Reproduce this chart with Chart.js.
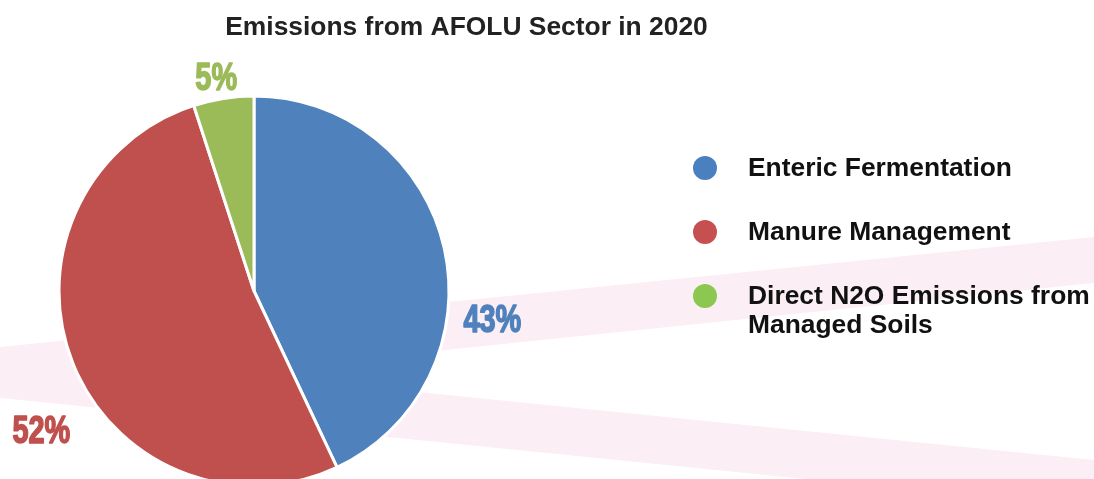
<!DOCTYPE html>
<html>
<head>
<meta charset="utf-8">
<title>Emissions from AFOLU Sector in 2020</title>
<script src="https://cdn.jsdelivr.net/npm/chart.js@4.4.1/dist/chart.umd.min.js"></script>
<style>
    html, body { margin: 0; padding: 0; background: #ffffff; overflow: hidden; }
    #wrap { position: relative; width: 1094px; height: 479px; overflow: hidden; }
    canvas { display: block; }
</style>
</head>
<body>
<div id="wrap">
    <canvas id="afoluPie" width="1094" height="500"></canvas>
</div>
<script>
const chartTitle = 'Emissions from AFOLU Sector in 2020';
const sources = ['Enteric Fermentation', 'Manure Management', 'Direct N2O Emissions from Managed Soils'];
const legendLines = [['Enteric Fermentation'], ['Manure Management'], ['Direct N2O Emissions from', 'Managed Soils']];
const shares = [43, 52, 5];

const sliceColors = ['#4f81bd', '#c0504d', '#9bbb59'];
const legendColors = ['#4a7fc0', '#c5504f', '#8cc751'];

// where each percentage sits: angle clockwise from 12 o'clock, distance in pie radii
const labelAngles = [96.5, 237, 350];
const labelDistance = [1.23, 1.30, 1.115];

const bands = {
    id: 'bands',
    beforeDraw(chart) {
        const { ctx, width } = chart;
        ctx.save();
        ctx.fillStyle = '#fbeef4';
        // rising band
        ctx.beginPath();
        ctx.moveTo(0, 347);
        ctx.lineTo(width, 237);
        ctx.lineTo(width, 283);
        ctx.lineTo(0, 396);
        ctx.closePath();
        ctx.fill();
        // falling band
        ctx.beginPath();
        ctx.moveTo(0, 350);
        ctx.lineTo(width, 460);
        ctx.lineTo(width, 508);
        ctx.lineTo(0, 398);
        ctx.closePath();
        ctx.fill();
        ctx.restore();
    }
};

const decorations = {
    id: 'decorations',
    afterDraw(chart) {
        const { ctx } = chart;
        ctx.save();

        // title
        ctx.font = 'bold 26.4px "Liberation Sans", Arial, sans-serif';
        ctx.fillStyle = '#222222';
        ctx.textAlign = 'center';
        ctx.textBaseline = 'alphabetic';
        ctx.fillText(chartTitle, 466.5, 35);

        // legend
        const rowTop = [176, 240, 304];
        ctx.font = 'bold 26.4px "Liberation Sans", Arial, sans-serif';
        ctx.textAlign = 'left';
        chart.data.labels.forEach((label, i) => {
            ctx.fillStyle = legendColors[i];
            ctx.beginPath();
            ctx.arc(705, rowTop[i] - 8, 12, 0, Math.PI * 2);
            ctx.fill();
            ctx.fillStyle = '#111111';
            legendLines[i].forEach((line, j) => {
                ctx.fillText(line, 748, rowTop[i] + j * 29);
            });
        });

        // percentage labels, narrow and heavy
        const arcs = chart.getDatasetMeta(0).data;
        const values = chart.data.datasets[0].data;
        ctx.font = 'bold 38px "Liberation Sans", Arial, sans-serif';
        ctx.textAlign = 'center';
        ctx.lineJoin = 'round';
        arcs.forEach((arc, i) => {
            const a = labelAngles[i] * Math.PI / 180;
            const r = arc.outerRadius * labelDistance[i];
            const x = arc.x + Math.sin(a) * r;
            const y = arc.y - Math.cos(a) * r;
            ctx.save();
            ctx.translate(x, y + 13.5);
            ctx.scale(0.76, 1);
            ctx.fillStyle = sliceColors[i];
            ctx.strokeStyle = sliceColors[i];
            ctx.lineWidth = 1.6;
            ctx.fillText(values[i] + '%', 0, 0);
            ctx.strokeText(values[i] + '%', 0, 0);
            ctx.restore();
        });

        ctx.restore();
    }
};

const ctx = document.getElementById('afoluPie').getContext('2d');
const pie = new Chart(ctx, {
    type: 'pie',
    data: {
        labels: sources,
        datasets: [{
            data: shares,
            backgroundColor: sliceColors,
            borderColor: '#ffffff',
            borderWidth: 3,
            hoverOffset: 0
        }]
    },
    options: {
        responsive: false,
        animation: false,
        layout: { padding: { left: 57.5, top: 94.5, right: 643.5, bottom: 12.5 } },
        plugins: {
            legend: { display: false },
            title: { display: false },
            tooltip: { enabled: false }
        }
    },
    plugins: [bands, decorations]
});
</script>
</body>
</html>
